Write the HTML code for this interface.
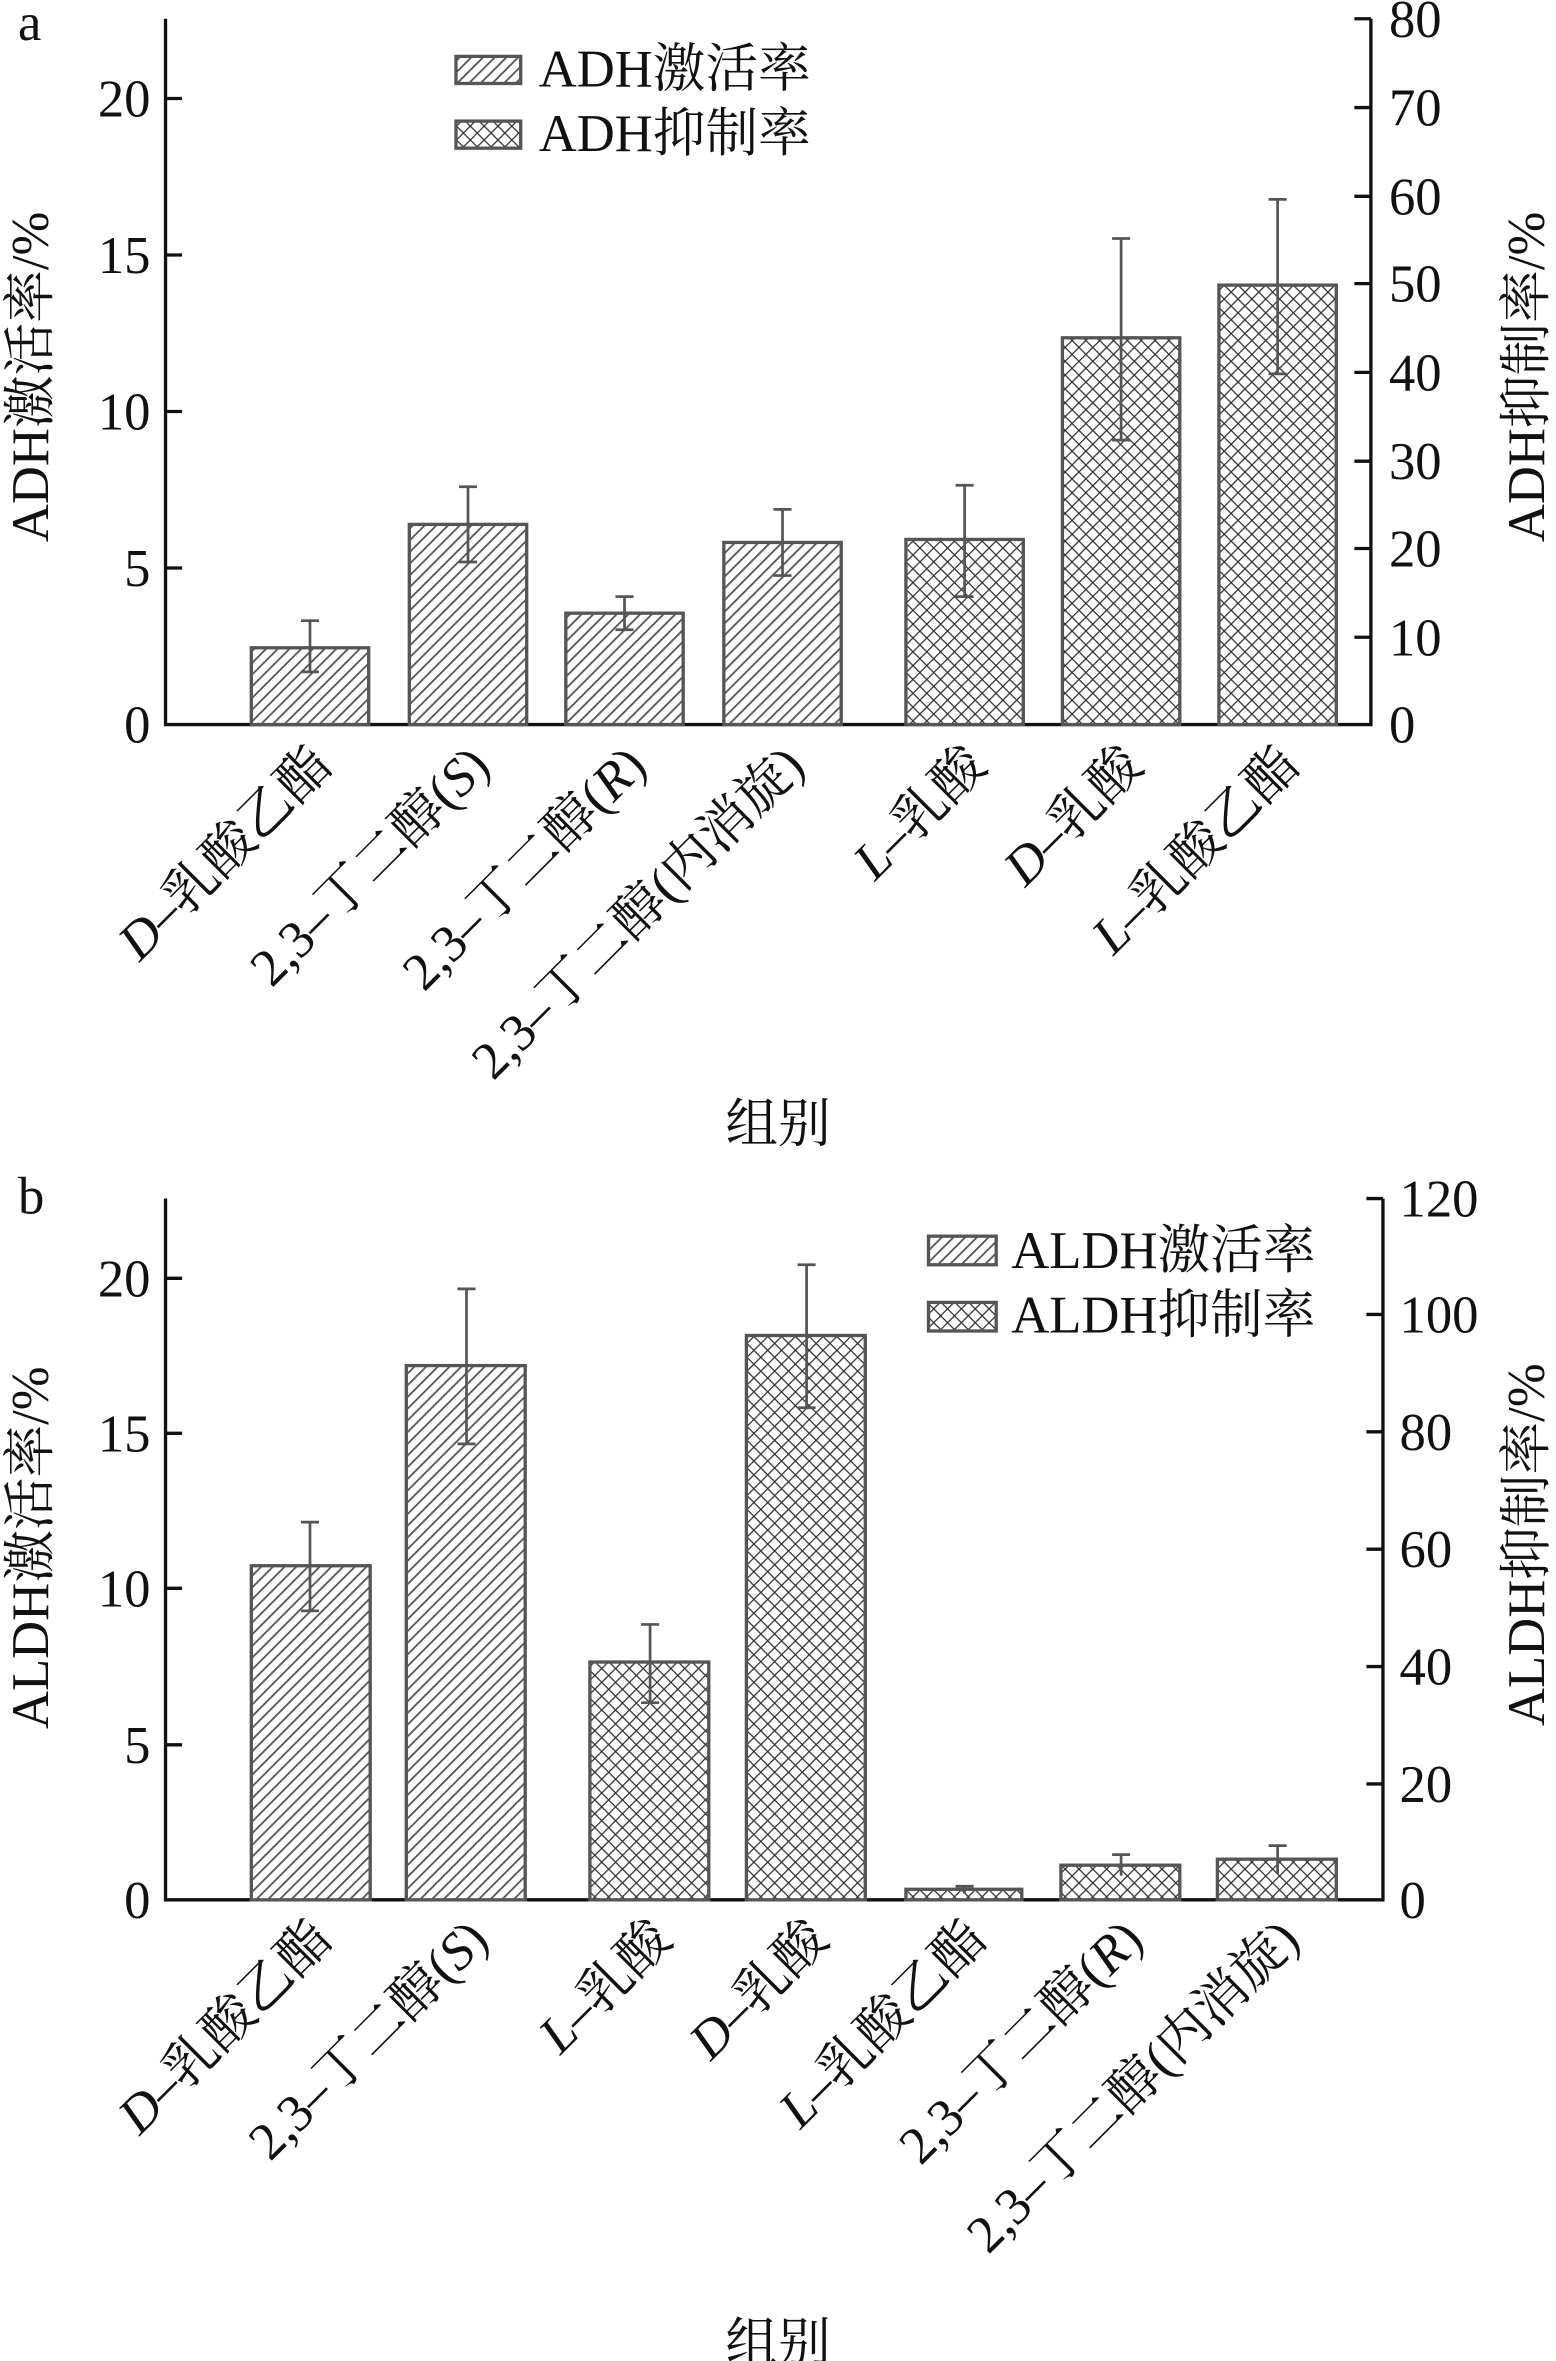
<!DOCTYPE html>
<html><head><meta charset="utf-8"><style>html,body{margin:0;padding:0;background:#fff}svg{display:block}</style></head>
<body>
<svg xmlns="http://www.w3.org/2000/svg" width="1556" height="2361" viewBox="0 0 1034 1568" font-family="'Liberation Serif','Noto Serif CJK SC',serif" fill="#111">
<defs>
<pattern id="hatch" patternUnits="userSpaceOnUse" width="5.5" height="5.5" patternTransform="rotate(45)">
<rect width="5.5" height="5.5" fill="#fff"/><line x1="0" y1="0" x2="0" y2="5.5" stroke="#555" stroke-width="2.4"/></pattern>
<pattern id="cross" patternUnits="userSpaceOnUse" width="6.5" height="6.5" patternTransform="rotate(45)">
<rect width="6.5" height="6.5" fill="#fff"/><line x1="0" y1="0" x2="0" y2="6.5" stroke="#333" stroke-width="1.7"/><line x1="0" y1="0" x2="6.5" y2="0" stroke="#333" stroke-width="1.7"/></pattern>
</defs>
<style>.b{stroke:#555;stroke-width:2.2}.e{stroke:#555;stroke-width:1.8;fill:none}.t{font-size:35px}.ax{stroke:#111;stroke-width:2.2;fill:none}</style>

<!-- Panel a -->
<text x="12" y="26" class="t">a</text>
<path class="ax" d="M110 12 V481 H911 V12"/>
<g class="ax"><path d="M110 65h11M110 169h11M110 273h11M110 377h11M911 12h-11M911 71h-11M911 130h-11M911 188h-11M911 247h-11M911 306h-11M911 364h-11M911 423h-11"/></g>
<g class="t" text-anchor="end"><text x="100" y="77">20</text><text x="100" y="181">15</text><text x="100" y="285">10</text><text x="100" y="389">5</text><text x="100" y="493">0</text></g>
<g class="t"><text x="923" y="24">80</text><text x="923" y="83">70</text><text x="923" y="142">60</text><text x="923" y="200">50</text><text x="923" y="259">40</text><text x="923" y="318">30</text><text x="923" y="376">20</text><text x="923" y="435">10</text><text x="923" y="493">0</text></g>
<text class="t" transform="translate(32,250) rotate(-90)" text-anchor="middle">ADH激活率/%</text>
<text class="t" transform="translate(1026,250) rotate(-90)" text-anchor="middle">ADH抑制率/%</text>
<rect x="303" y="37" width="43" height="18" fill="url(#hatch)" class="b"/>
<rect x="303" y="80" width="43" height="18" fill="url(#cross)" class="b"/>
<text x="358" y="57" class="t">ADH激活率</text><text x="358" y="100" class="t">ADH抑制率</text>
<rect x="167" y="430" width="78" height="51" fill="url(#hatch)" class="b"/>
<rect x="272" y="348" width="78" height="133" fill="url(#hatch)" class="b"/>
<rect x="376" y="407" width="78" height="74" fill="url(#hatch)" class="b"/>
<rect x="481" y="360" width="78" height="121" fill="url(#hatch)" class="b"/>
<rect x="602" y="358" width="78" height="123" fill="url(#cross)" class="b"/>
<rect x="706" y="224" width="78" height="257" fill="url(#cross)" class="b"/>
<rect x="810" y="189" width="78" height="292" fill="url(#cross)" class="b"/>
<path class="e" d="M206 412V446M200 412h12M200 446h12M311 323V373M305 323h12M305 373h12M415 396V418M409 396h12M409 418h12M520 338V382M514 338h12M514 382h12M641 322V396M635 322h12M635 396h12M745 158V292M739 158h12M739 292h12M849 132V248M843 132h12M843 248h12"/>
<g class="t" text-anchor="end">
<text transform="translate(222,510) rotate(-45)"><tspan font-style="italic">D</tspan>–乳酸乙酯</text>
<text transform="translate(327,510) rotate(-45)">2,3–丁二醇(<tspan font-style="italic">S</tspan>)</text>
<text transform="translate(431,510) rotate(-45)">2,3–丁二醇(<tspan font-style="italic">R</tspan>)</text>
<text transform="translate(536,510) rotate(-45)">2,3–丁二醇(内消旋)</text>
<text transform="translate(657,510) rotate(-45)"><tspan font-style="italic">L</tspan>–乳酸</text>
<text transform="translate(761,510) rotate(-45)"><tspan font-style="italic">D</tspan>–乳酸</text>
<text transform="translate(865,510) rotate(-45)"><tspan font-style="italic">L</tspan>–乳酸乙酯</text>
</g>
<text x="517" y="758" class="t" text-anchor="middle">组别</text>

<!-- Panel b -->
<text x="12" y="806" class="t">b</text>
<path class="ax" d="M110 796 V1262 H919 V796"/>
<g class="ax"><path d="M110 849h11M110 952h11M110 1055h11M110 1159h11M919 796h-11M919 873h-11M919 951h-11M919 1029h-11M919 1107h-11M919 1185h-11"/></g>
<g class="t" text-anchor="end"><text x="100" y="861">20</text><text x="100" y="964">15</text><text x="100" y="1067">10</text><text x="100" y="1171">5</text><text x="100" y="1274">0</text></g>
<g class="t"><text x="930" y="808">120</text><text x="930" y="885">100</text><text x="930" y="963">80</text><text x="930" y="1041">60</text><text x="930" y="1119">40</text><text x="930" y="1197">20</text><text x="930" y="1274">0</text></g>
<text class="t" transform="translate(32,1028) rotate(-90)" text-anchor="middle">ALDH激活率/%</text>
<text class="t" transform="translate(1026,1026) rotate(-90)" text-anchor="middle">ALDH抑制率/%</text>
<rect x="617" y="821" width="45" height="19" fill="url(#hatch)" class="b"/>
<rect x="617" y="865" width="45" height="19" fill="url(#cross)" class="b"/>
<text x="672" y="842" class="t">ALDH激活率</text><text x="672" y="885" class="t">ALDH抑制率</text>
<rect x="167" y="1040" width="79" height="222" fill="url(#hatch)" class="b"/>
<rect x="270" y="907" width="79" height="355" fill="url(#hatch)" class="b"/>
<rect x="392" y="1104" width="79" height="158" fill="url(#cross)" class="b"/>
<rect x="496" y="887" width="79" height="375" fill="url(#cross)" class="b"/>
<rect x="602" y="1255" width="77" height="7" fill="url(#cross)" class="b"/>
<rect x="705" y="1239" width="79" height="23" fill="url(#cross)" class="b"/>
<rect x="809" y="1235" width="79" height="27" fill="url(#cross)" class="b"/>
<path class="e" d="M206 1011V1070M200 1011h12M200 1070h12M310 856V959M304 856h12M304 959h12M432 1079V1131M426 1079h12M426 1131h12M536 840V935M530 840h12M530 935h12M641 1253V1258M635 1253h12M745 1232V1246M739 1232h12M849 1226V1245M843 1226h12"/>
<g class="t" text-anchor="end">
<text transform="translate(222,1290) rotate(-45)"><tspan font-style="italic">D</tspan>–乳酸乙酯</text>
<text transform="translate(326,1290) rotate(-45)">2,3–丁二醇(<tspan font-style="italic">S</tspan>)</text>
<text transform="translate(448,1290) rotate(-45)"><tspan font-style="italic">L</tspan>–乳酸</text>
<text transform="translate(552,1290) rotate(-45)"><tspan font-style="italic">D</tspan>–乳酸</text>
<text transform="translate(657,1290) rotate(-45)"><tspan font-style="italic">L</tspan>–乳酸乙酯</text>
<text transform="translate(761,1290) rotate(-45)">2,3–丁二醇(<tspan font-style="italic">R</tspan>)</text>
<text transform="translate(865,1290) rotate(-45)">2,3–丁二醇(内消旋)</text>
</g>
<text x="517" y="1568" class="t" text-anchor="middle">组别</text>
</svg>
</body></html>
